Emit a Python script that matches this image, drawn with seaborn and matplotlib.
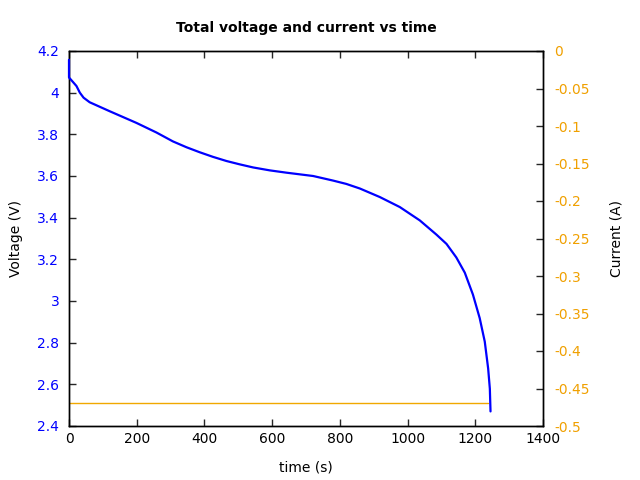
import matplotlib
matplotlib.use("Agg")
import matplotlib.pyplot as plt
import seaborn as sns
import pandas as pd
from matplotlib.ticker import FuncFormatter, MultipleLocator

# Data
time_v = [0, 0, 22, 32, 43, 61, 120, 199, 258, 307, 347, 386, 425, 465, 504,
          544, 593, 642, 721, 780, 819, 859, 918, 977, 1036, 1085, 1115, 1144,
          1169, 1193, 1213, 1228, 1238, 1243, 1245]
voltage = [4.158, 4.073, 4.032, 4.000, 3.976, 3.954, 3.911, 3.855, 3.809, 3.766,
           3.738, 3.714, 3.692, 3.672, 3.656, 3.641, 3.627, 3.616, 3.600, 3.578,
           3.562, 3.540, 3.499, 3.451, 3.387, 3.319, 3.274, 3.209, 3.136, 3.031,
           2.918, 2.805, 2.676, 2.579, 2.470]
time_i = [0, 1238]
current = [-0.469, -0.469]

sns.set_style("white")
plt.rcParams['font.family'] = ['DejaVu Sans']
plt.rcParams['axes.unicode_minus'] = False
plt.rcParams['text.color'] = 'black'
plt.rcParams['axes.labelcolor'] = 'black'

fig = plt.figure(figsize=(6.4, 4.8), dpi=100)
ax = fig.add_axes([69/640, 1-426/480, (543-69)/640, (426-51)/480])
ax2 = ax.twinx()

dv = pd.DataFrame({"t": time_v, "v": voltage})
di = pd.DataFrame({"t": time_i, "i": current})

sns.lineplot(data=dv, x="t", y="v", ax=ax, color="#0000ff", lw=1.6,
             estimator=None, sort=False)
sns.lineplot(data=di, x="t", y="i", ax=ax2, color="#f0a800", lw=1.0,
             estimator=None, sort=False)
ax.lines[0].set_clip_on(False)
ax.lines[0].set_zorder(5)
ax.set_zorder(ax2.get_zorder() + 1)
ax.patch.set_visible(False)

ax.set_xlim(0, 1400)
ax.set_ylim(2.4, 4.2)
ax2.set_ylim(-0.5, 0)

ax.xaxis.set_major_locator(MultipleLocator(200))
ax.yaxis.set_major_locator(MultipleLocator(0.2))
ax2.yaxis.set_major_locator(MultipleLocator(0.05))
fmt = FuncFormatter(lambda v, p: "%g" % round(v, 4))
ax.yaxis.set_major_formatter(fmt)
ax2.yaxis.set_major_formatter(fmt)
ax.xaxis.set_major_formatter(fmt)

for a in (ax, ax2):
    for s in a.spines.values():
        s.set_visible(True)
        s.set_color("black")
        s.set_linewidth(1.0)

ax.tick_params(axis="x", direction="in", top=True, bottom=True, length=5,
               width=1, labelsize=10, labelcolor="black", pad=4)
ax.tick_params(axis="y", direction="in", left=True, right=False, length=5,
               width=1, labelsize=10, labelcolor="#0000ff", pad=7)
ax2.tick_params(axis="y", direction="in", right=True, length=5, width=1,
                labelsize=10, labelcolor="#f0a000", pad=8)

ax.set_xlabel("time (s)", fontsize=10, labelpad=11, color="black")
ax.set_ylabel("Voltage (V)", fontsize=10, labelpad=10, color="black")
ax2.set_ylabel("Current (A)", fontsize=10, labelpad=14, color="black")
ax.set_title("Total voltage and current vs time", fontsize=10,
             fontweight="bold", pad=14, color="black")

fig.savefig("out.png", dpi=100)
